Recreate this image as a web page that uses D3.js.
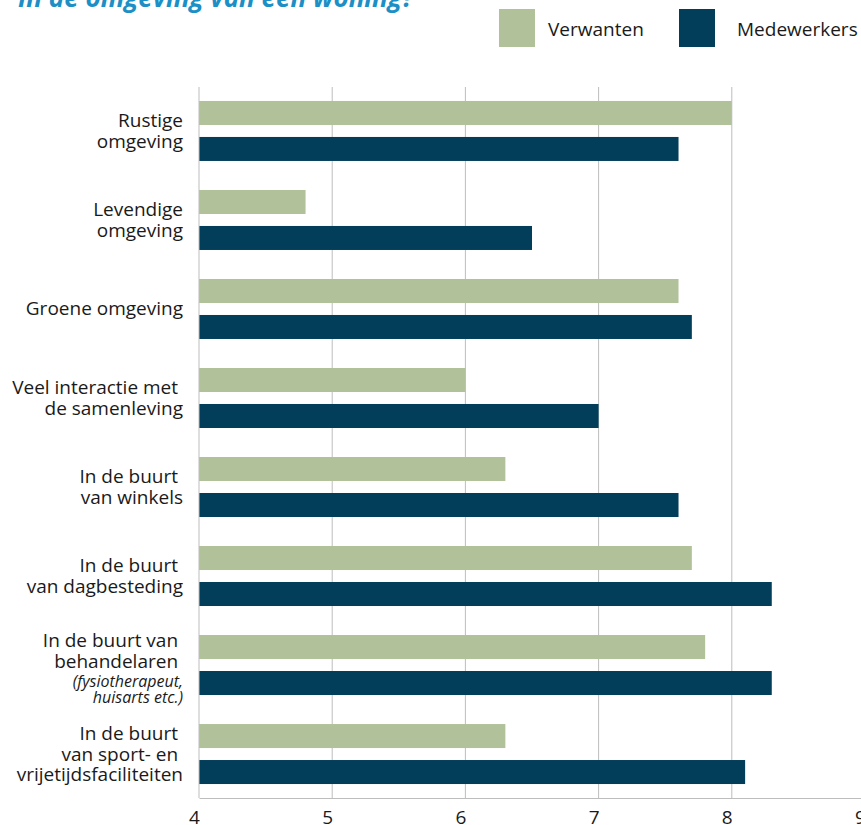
<!DOCTYPE html>
<html>
<head>
<meta charset="utf-8">
<script src="https://cdn.jsdelivr.net/npm/d3@7"></script>
<style>
  body { margin: 0; background: #fff; }
  svg { display: block; font-family: "Open Sans", sans-serif; }
  .cat { font-size: 19px; fill: #1a1a1a; white-space: pre; }
  .note { font-size: 16px; font-style: italic; }
  .tick text { font-size: 19px; fill: #1a1a1a; }
</style>
</head>
<body>
<div class="panel"></div>
<script>
const width = 861;
const height = 825;
const margins = {top: 87, right: -4, bottom: 27, left: 199};

// categories, each label split over lines; lines in the array "notes" are set in small italic
const categories = [
  "Rustige omgeving",
  "Levendige omgeving",
  "Groene omgeving",
  "Veel interactie met de samenleving",
  "In de buurt van winkels",
  "In de buurt van dagbesteding",
  "In de buurt van behandelaren",
  "In de buurt van sport- en vrijetijdsfaciliteiten"
];
const labelLines = [
  ["Rustige", "omgeving"],
  ["Levendige", "omgeving"],
  ["Groene omgeving"],
  ["Veel interactie met ", "de samenleving"],
  ["In de buurt ", "van winkels"],
  ["In de buurt ", "van dagbesteding"],
  ["In de buurt van ", "behandelaren ", "(fysiotherapeut,", "huisarts etc.)"],
  ["In de buurt ", "van sport- en ", "vrijetijdsfaciliteiten"]
];
const notes = ["(fysiotherapeut,", "huisarts etc.)"];

const series = ["Verwanten", "Medewerkers"];
const verwanten   = [8.0, 4.8, 7.6, 6.0, 6.3, 7.7, 7.8, 6.3];
const medewerkers = [7.6, 6.5, 7.7, 7.0, 7.6, 8.3, 8.3, 8.1];
const colours = {"Verwanten": "#b1c29a", "Medewerkers": "#023d5a"};

const xTicks = [4, 5, 6, 7, 8, 9];
const title = "In de omgeving van een woning?";

const svg = d3.select(".panel")
  .append("svg")
  .attr("width", width)
  .attr("height", height);

// title, mostly cut off at the top edge
svg.append("text")
  .attr("x", 18)
  .attr("y", 7)
  .attr("font-size", 26)
  .attr("font-weight", "bold")
  .attr("font-style", "italic")
  .attr("fill", "#1b8fc6")
  .text(title);

// legend
const legendX = [499, 679];
const legendTextX = [548, 737];
series.forEach((s, i) => {
  svg.append("rect")
    .attr("x", legendX[i])
    .attr("y", 9)
    .attr("width", 36)
    .attr("height", 38)
    .attr("fill", colours[s]);
  svg.append("text")
    .attr("x", legendTextX[i])
    .attr("y", 36)
    .attr("font-size", 19)
    .attr("fill", "#1a1a1a")
    .text(s);
});

const xScale = d3.scaleLinear()
  .domain([4, 9])
  .range([margins.left, width - margins.right]);

const yScale = d3.scaleBand()
  .domain(categories)
  .range([margins.top, height - margins.bottom])
  .paddingInner(0.326)
  .paddingOuter(0.157);

const ySub = d3.scaleBand()
  .domain(series)
  .range([0, yScale.bandwidth()])
  .paddingInner(0.333);

const plotBottom = height - margins.bottom;

// grid lines
svg.append("g")
  .selectAll("line")
  .data(xTicks.slice(1))
  .enter()
  .append("line")
  .attr("x1", d => xScale(d))
  .attr("x2", d => xScale(d))
  .attr("y1", margins.top)
  .attr("y2", plotBottom)
  .attr("stroke", "#bdbdbd")
  .attr("stroke-width", 1);

// bars
const rows = categories.map((c, i) => ({cat: c, values: [
  {key: "Verwanten", value: verwanten[i]},
  {key: "Medewerkers", value: medewerkers[i]}
]}));

const groups = svg.append("g")
  .selectAll("g")
  .data(rows)
  .enter()
  .append("g")
  .attr("transform", d => `translate(0, ${yScale(d.cat)})`);

groups.selectAll("rect")
  .data(d => d.values)
  .enter()
  .append("rect")
  .attr("x", xScale(4))
  .attr("y", d => ySub(d.key))
  .attr("width", d => xScale(d.value) - xScale(4))
  .attr("height", ySub.bandwidth())
  .attr("fill", d => colours[d.key]);

// x axis, labels sit a little left of their ticks
const xAxis = d3.axisBottom(xScale).tickValues(xTicks).tickSize(0).tickPadding(13).tickFormat(d3.format("d"));
const axisG = svg.append("g")
  .attr("transform", `translate(0, ${plotBottom})`)
  .call(xAxis);
axisG.select(".domain").attr("stroke", "#bdbdbd");
axisG.selectAll(".tick text")
  .attr("font-family", "Open Sans, sans-serif")
  .attr("dx", -5);

// left axis line
svg.append("line")
  .attr("x1", xScale(4))
  .attr("x2", xScale(4))
  .attr("y1", margins.top)
  .attr("y2", plotBottom)
  .attr("stroke", "#bdbdbd");

// category labels
function step(prev, next){
  if(!notes.includes(next)) return 20.5;
  if(!notes.includes(prev)) return 19;
  return 16.5;
}
categories.forEach((c, i) => {
  const lines = labelLines[i];
  const centre = yScale(c) + yScale.bandwidth() / 2;
  const offsets = [0];
  for(let j = 1; j < lines.length; ++j){
    offsets.push(offsets[j - 1] + step(lines[j - 1], lines[j]));
  }
  const span = offsets[offsets.length - 1];
  const hasNotes = lines.some(l => notes.includes(l));
  const startY = centre - span / 2 + 6.5 + (hasNotes ? 3.5 : 0);
  const t = svg.append("text")
    .attr("class", "cat")
    .attr("text-anchor", "end")
    .attr("x", 183);
  lines.forEach((line, j) => {
    t.append("tspan")
      .attr("x", 183)
      .attr("y", startY + offsets[j])
      .attr("class", notes.includes(line) ? "note" : null)
      .text(line);
  });
});
</script>
</body>
</html>
